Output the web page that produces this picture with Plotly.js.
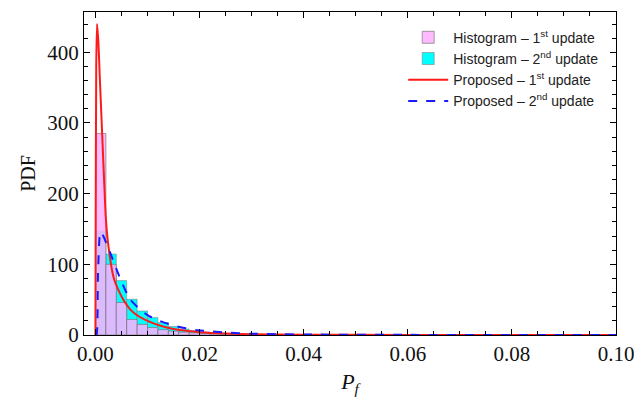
<!DOCTYPE html>
<html>
<head>
<meta charset="utf-8">
<script src="https://cdn.plot.ly/plotly-3.0.1.min.js"></script>
<style>html,body{margin:0;padding:0;background:#fff;}#chart{width:634px;height:403px;}</style>
</head>
<body>
<div id="chart"></div>
<script>
// Histogram bins (width 0.002), bin centres
var binCenters = [0.001,0.003,0.005,0.007,0.009,0.011,0.013,0.015,0.017,0.019,0.021,0.023,0.025,0.027,0.029,0.031,0.033];
var hist1 = [285,100,46,22,15,10.5,7.5,5.5,4,3,2.2,1.6,1.2,0.9,0.7,0.5,0.4];
var hist2 = [147,114.5,77,50.6,34,24.6,17.5,12,8.5,6,4.2,3,2.2,1.5,1.1,0.8,0.6];

// Proposed PDF curves
var prop1X = [0,0.00005,0.00015,0.0003,0.00058,0.00083,0.0012,0.0016,0.002,0.0025,0.0035,0.0042,0.0055,0.0067,0.008,0.01,0.0125,0.015,0.0175,0.02,0.025,0.03,0.04,0.06,0.08,0.1];
var prop1Y = [0,150,380,440,412,365,300,230,165,125,81,67,48,36,28,20,13,8.5,6,4,2,1,0.4,0.1,0.05,0];
var prop2X = [0,0.0002,0.0005,0.00096,0.0015,0.0029,0.0048,0.0067,0.01,0.0132,0.0164,0.0196,0.025,0.03,0.04,0.06,0.08,0.1];
var prop2Y = [0,0,90,146,140,115,79,50,28,17.5,11,6.8,3.5,1.8,0.7,0.2,0.05,0];

var xTickVals = [0,0.02,0.04,0.06,0.08,0.1];
var xTickText = ['0.00','0.02','0.04','0.06','0.08','0.10'];
var yTickVals = [0,100,200,300,400];

var serif = 'Liberation Serif, Times New Roman, serif';
var traces = [
  {type:'bar', x:binCenters, y:hist1, width:0.002, name:'Histogram – 1<sup>st</sup> update', legendrank:1,
   marker:{color:'rgba(255,176,255,0.86)', line:{color:'rgba(120,120,120,0.7)', width:1}}},
  {type:'bar', x:binCenters, y:hist2, width:0.002, name:'Histogram – 2<sup>nd</sup> update', legendrank:2,
   marker:{color:'#00FFFF', line:{color:'rgba(130,130,130,0.6)', width:1}}},
  {type:'scatter', mode:'lines', x:prop1X, y:prop1Y, name:'Proposed – 1<sup>st</sup> update', legendrank:3,
   line:{color:'#FF1A1A', width:2, shape:'spline', smoothing:0.6}},
  {type:'scatter', mode:'lines', x:prop2X, y:prop2Y, name:'Proposed – 2<sup>nd</sup> update', legendrank:4,
   line:{color:'#1A1AFF', width:2, dash:'dash', shape:'spline', smoothing:0.6}}
];
// draw cyan underneath, pink above
var data = [traces[1], traces[0], traces[2], traces[3]];

var layout = {
  width:634, height:403,
  margin:{l:84, r:18, t:12, b:68},
  paper_bgcolor:'#fff', plot_bgcolor:'#fff',
  barmode:'overlay', bargap:0,
  showlegend:true,
  legend:{x:0.6, y:0.97, xanchor:'left', yanchor:'top', bgcolor:'rgba(255,255,255,0)',
          font:{family:'Liberation Sans, Arial, sans-serif', size:14, color:'#222'},
          tracegroupgap:0, itemwidth:40},
  xaxis:{range:[-0.0022,0.1], tickvals:xTickVals, ticktext:xTickText, ticklabeloverflow:'allow',
         ticks:'inside', ticklen:6, tickcolor:'#000', showline:true, linecolor:'#000', linewidth:1,
         mirror:'allticks', showgrid:false, zeroline:false,
         minor:{dtick:0.005, tick0:0, ticks:'inside', ticklen:4, tickcolor:'#000'},
         tickfont:{family:serif, size:21, color:'#111'},
         title:{text:'<i>P</i><sub><i>f</i></sub>', standoff:8,
                font:{family:serif, size:22, color:'#111'}}},
  yaxis:{range:[0,457], tickvals:yTickVals,
         ticks:'inside', ticklen:6, tickcolor:'#000', showline:true, linecolor:'#000', linewidth:1,
         mirror:'allticks', showgrid:false, zeroline:false,
         minor:{dtick:20, tick0:0, ticks:'inside', ticklen:4, tickcolor:'#000'},
         tickfont:{family:serif, size:21, color:'#111'},
         title:{text:'PDF', standoff:6,
                font:{family:serif, size:20, color:'#111'}}}
};
Plotly.newPlot('chart', data, layout, {displayModeBar:false, staticPlot:true});
</script>
</body>
</html>
